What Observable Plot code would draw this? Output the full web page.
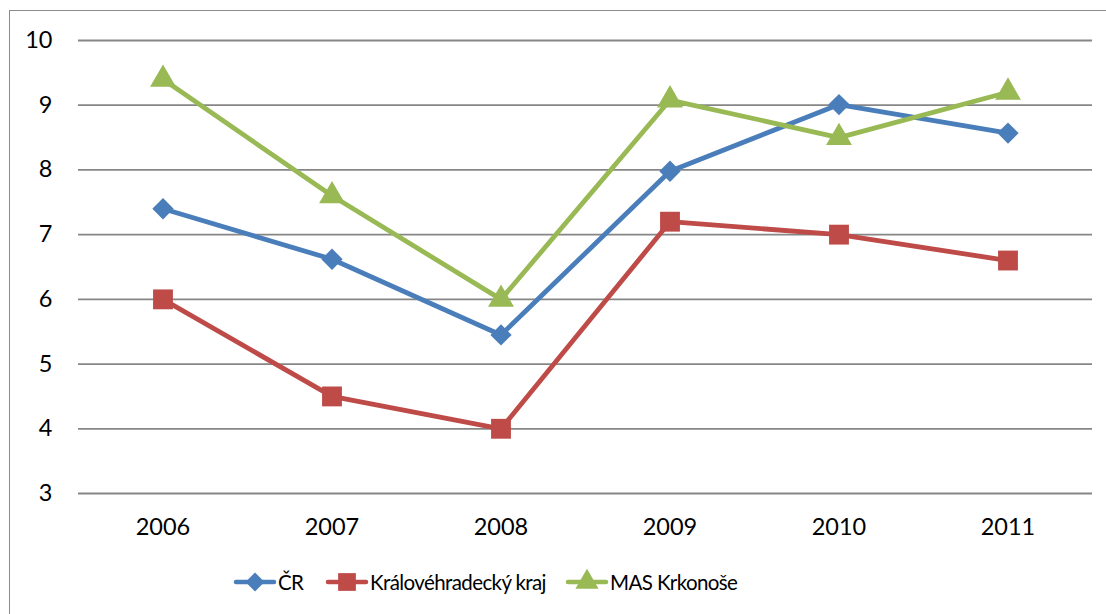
<!DOCTYPE html>
<html><head><meta charset="utf-8">
<script src="https://cdn.jsdelivr.net/npm/d3@7"></script>
<script src="https://cdn.jsdelivr.net/npm/@observablehq/plot@0.6"></script>
<style>
body{margin:0;background:#fff;font-family:Lato,"Open Sans",sans-serif;}
#wrap{position:relative;width:1106px;height:614px;overflow:hidden;}
#frame{position:absolute;left:9px;top:10px;width:1200px;height:700px;border:1.5px solid #8c8c8c;box-sizing:border-box;}
#chart{position:absolute;left:0;top:0;}
#legend{position:absolute;left:0;top:567px;width:1106px;height:30px;}
.item{position:absolute;top:0;display:flex;align-items:center;font-size:20.5px;letter-spacing:-0.6px;color:#000;}
</style></head><body>
<div id="wrap"><div id="frame"></div><div id="chart"></div><div id="legend"></div></div>
<script>
const years = ["2006","2007","2008","2009","2010","2011"];
const seriesNames = ["ČR","Královéhradecký kraj","MAS Krkonoše"];
const cr = [7.40, 6.62, 5.45, 7.98, 9.01, 8.57];
const kraj = [6.0, 4.5, 4.0, 7.2, 7.0, 6.6];
const mas = [9.4, 7.6, 6.0, 9.08, 8.5, 9.2];
const yTicks = [3,4,5,6,7,8,9,10];
const colors = ["#4A7EBB","#BE4B48","#98B954"];
const symbols = ["diamond2","square","triangle"];
const radii = [9.6, 11.2, 9.6];

const seriesVals = [cr, kraj, mas];
const data = [];
seriesNames.forEach((s,i)=>years.forEach((y,j)=>data.push({series:s, year:y, value:seriesVals[i][j]})));

const chart = Plot.plot({
  width:1106, height:555,
  marginLeft:78, marginRight:14, marginTop:40, marginBottom:62,
  style:{fontFamily:"Lato, 'Open Sans', sans-serif", fontSize:"23.5px", color:"#000", background:"transparent"},
  x:{type:"band", domain:years, padding:0, label:null, tickSize:0, tickPadding:25},
  y:{domain:[3,10], ticks:yTicks, label:null, tickSize:0, tickPadding:26, tickFormat:d=>String(d)},
  color:{domain:seriesNames, range:colors},
  symbol:{domain:seriesNames, range:symbols},
  marks:[
    Plot.ruleY(yTicks, {stroke:"#868686", strokeWidth:1.8, strokeOpacity:1}),
    Plot.line(data, {x:"year", y:"value", z:"series", stroke:"series", strokeWidth:4.8, strokeLinejoin:"round", strokeLinecap:"round"}),
    ...seriesNames.map((s,i)=>Plot.dot(data.filter(d=>d.series===s), {x:"year", y:"value", symbol:"series", fill:"series", r:radii[i], stroke:null}))
  ]
});
document.getElementById("chart").appendChild(chart);

// legend
const legendX = [233, 325, 565];
const leg = document.getElementById("legend");
seriesNames.forEach((s,i)=>{
  const item = document.createElement("div");
  item.className = "item";
  item.style.left = legendX[i] + "px";
  const sym = d3.symbol(i===0?d3.symbolDiamond2:i===1?d3.symbolSquare:d3.symbolTriangle, radii[i]*radii[i]*Math.PI*0.8)();
  item.innerHTML = `<svg width="44" height="30" style="margin-right:1px"><line x1="3" x2="41" y1="15" y2="15" stroke="${colors[i]}" stroke-width="4.5" stroke-linecap="round"/><path transform="translate(22,15)" d="${sym}" fill="${colors[i]}"/></svg><span>${s}</span>`;
  leg.appendChild(item);
});
</script>
</body></html>
